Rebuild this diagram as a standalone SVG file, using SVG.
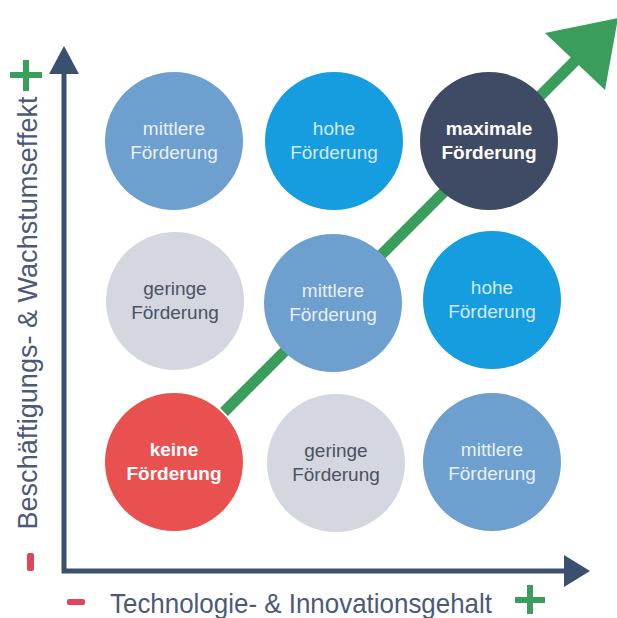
<svg xmlns="http://www.w3.org/2000/svg" width="617" height="618" viewBox="0 0 617 618">
  <style>
    .lbl { font-family: "Liberation Sans", Arial, sans-serif; font-size: 19px; text-anchor: middle; }
    .b { font-weight: bold; fill: #ffffff; }
    .mid { fill: #6d9fcf; }
    .mid-t { fill: #e9f0f8; }
    .high { fill: #169ddf; }
    .high-t { fill: #d3eaf8; }
    .low { fill: #d4d7df; }
    .low-t { fill: #4b5263; }
    .max { fill: #3f4b64; }
    .none { fill: #e8514f; }
    .axis { stroke: #3b506e; stroke-width: 5; fill: none; }
    .axhead { fill: #3b506e; }
    .axlbl { font-family: "Liberation Sans", Arial, sans-serif; font-size: 28px; fill: #4a5a78; text-anchor: middle; }
    .plus { fill: #3a9d5c; }
    .minus { fill: #e0455a; }
    .green { fill: #3a9d5c; }
  </style>
  <rect width="617" height="618" fill="#ffffff"/>

  <g id="connectors">
    <line x1="224" y1="412" x2="578" y2="58" stroke="#3a9d5c" stroke-width="11"/>
    <polygon class="green" points="545,33 618,18 605,90"/>
  </g>

  <g id="axes">
    <polyline class="axis" points="64,72 64,571 566,571"/>
    <polygon class="axhead" points="64,46 49,74 79,74"/>
    <polygon class="axhead" points="590,571 564,555 564,587"/>
    <rect class="plus" x="10" y="72" width="32" height="6"/>
    <rect class="plus" x="23" y="60" width="6" height="31"/>
    <rect class="minus" x="27" y="553" width="7" height="18" rx="2"/>
    <rect class="plus" x="515" y="597" width="30" height="6"/>
    <rect class="plus" x="527" y="585" width="6" height="29"/>
    <rect class="minus" x="67" y="599" width="18" height="6" rx="2"/>
    <text class="axlbl" x="301" y="613" textLength="382" lengthAdjust="spacingAndGlyphs">Technologie- &amp; Innovationsgehalt</text>
    <text class="axlbl" transform="translate(37,313) rotate(-90)" x="0" y="0" textLength="433" lengthAdjust="spacingAndGlyphs">Beschäftigungs- &amp; Wachstumseffekt</text>
  </g>

  <g id="n-r1c1">
    <circle class="mid" cx="174" cy="141" r="69"/>
    <text class="lbl mid-t" x="174" y="135">mittlere</text>
    <text class="lbl mid-t" x="174" y="159">Förderung</text>
  </g>
  <g id="n-r1c2">
    <circle class="high" cx="334" cy="141" r="69"/>
    <text class="lbl high-t" x="334" y="135">hohe</text>
    <text class="lbl high-t" x="334" y="159">Förderung</text>
  </g>
  <g id="n-r1c3">
    <circle class="max" cx="489" cy="141" r="69"/>
    <text class="lbl b" x="489" y="135">maximale</text>
    <text class="lbl b" x="489" y="159">Förderung</text>
  </g>
  <g id="n-r2c1">
    <circle class="low" cx="175" cy="301" r="69"/>
    <text class="lbl low-t" x="175" y="295">geringe</text>
    <text class="lbl low-t" x="175" y="319">Förderung</text>
  </g>
  <g id="n-r2c2">
    <circle class="mid" cx="333" cy="303" r="69"/>
    <text class="lbl mid-t" x="333" y="297">mittlere</text>
    <text class="lbl mid-t" x="333" y="321">Förderung</text>
  </g>
  <g id="n-r2c3">
    <circle class="high" cx="492" cy="300" r="69"/>
    <text class="lbl high-t" x="492" y="294">hohe</text>
    <text class="lbl high-t" x="492" y="318">Förderung</text>
  </g>
  <g id="n-r3c1">
    <circle class="none" cx="174" cy="462" r="69"/>
    <text class="lbl b" x="174" y="456">keine</text>
    <text class="lbl b" x="174" y="480">Förderung</text>
  </g>
  <g id="n-r3c2">
    <circle class="low" cx="336" cy="463" r="69"/>
    <text class="lbl low-t" x="336" y="457">geringe</text>
    <text class="lbl low-t" x="336" y="481">Förderung</text>
  </g>
  <g id="n-r3c3">
    <circle class="mid" cx="492" cy="462" r="69"/>
    <text class="lbl mid-t" x="492" y="456">mittlere</text>
    <text class="lbl mid-t" x="492" y="480">Förderung</text>
  </g>
</svg>
